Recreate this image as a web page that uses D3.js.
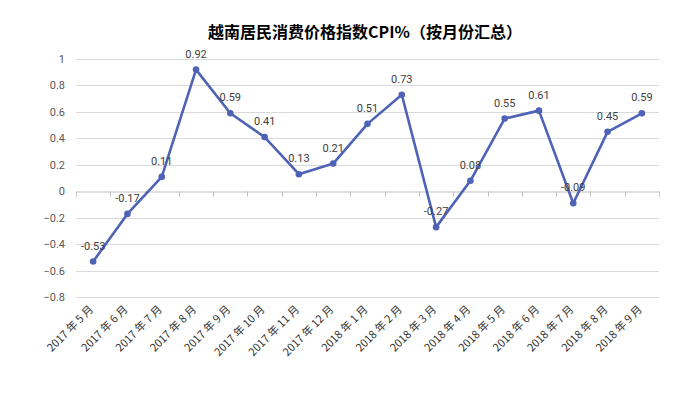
<!DOCTYPE html>
<html>
<head>
<meta charset="utf-8">
<script src="https://cdn.jsdelivr.net/npm/d3@7"></script>
<style>
  body { margin: 0; background: #fff; }
</style>
</head>
<body>
<div id="chart"></div>
<script>
// data
const months = ["2017 年 5 月", "2017 年 6 月", "2017 年 7 月", "2017 年 8 月", "2017 年 9 月",
    "2017 年 10 月", "2017 年 11 月", "2017 年 12 月", "2018 年 1 月", "2018 年 2 月",
    "2018 年 3 月", "2018 年 4 月", "2018 年 5 月", "2018 年 6 月", "2018 年 7 月",
    "2018 年 8 月", "2018 年 9 月"];
const cpi = [-0.53, -0.17, 0.11, 0.92, 0.59, 0.41, 0.13, 0.21, 0.51, 0.73,
    -0.27, 0.08, 0.55, 0.61, -0.09, 0.45, 0.59];
const yTicks = [-0.8, -0.6, -0.4, -0.2, 0, 0.2, 0.4, 0.6, 0.8, 1];

function draw() {
    const svgwidth = 688;
    const svgheight = 397;
    const margin = {top: 59, bottom: 100, left: 76, right: 29};
    const line_color = "#4e62b6";
    const num_font = "Roboto, 'Noto Sans', sans-serif";
    const cjk_font = "'Noto Sans CJK SC', sans-serif";

    let svg = d3.select("#chart").append("svg")
        .attr("width", svgwidth)
        .attr("height", svgheight);

    let xScale = d3.scaleBand()
        .domain(months)
        .range([margin.left, svgwidth - margin.right]);
    let yScale = d3.scaleLinear()
        .domain([-0.8, 1])
        .range([svgheight - margin.bottom + 0.3, margin.top]);
    let xc = (d) => xScale(d) + xScale.bandwidth() / 2;

    // gridlines
    svg.append("g")
        .selectAll("line")
        .data(yTicks.filter(t => t != 0))
        .enter().append("line")
        .attr("x1", margin.left)
        .attr("x2", svgwidth - margin.right)
        .attr("y1", d => Math.round(yScale(d)) + 0.5)
        .attr("y2", d => Math.round(yScale(d)) + 0.5)
        .attr("stroke", "#d9d9d9")
        .attr("stroke-width", 1);

    // y tick labels
    svg.append("g")
        .selectAll("text")
        .data(yTicks)
        .enter().append("text")
        .text(d => d3.format("")(Math.round(d * 10) / 10))
        .attr("x", 65)
        .attr("y", d => yScale(d) + 4)
        .attr("text-anchor", "end")
        .style("font-family", num_font)
        .style("font-size", "11px")
        .style("fill", "#595959");

    // category axis on zero
    let xAxis = d3.axisBottom(xScale)
        .tickSizeOuter(0)
        .tickSizeInner(0)
        .tickFormat("");
    let zeroY = Math.round(yScale(0)) + 0.5;
    let ax = svg.append("g")
        .attr("transform", `translate(0,${zeroY})`)
        .call(xAxis);
    ax.select(".domain").attr("stroke", "#bfbfbf");
    // boundary ticks
    let bounds = months.map(m => xScale(m)).concat([svgwidth - margin.right]);
    ax.selectAll(".bnd")
        .data(bounds)
        .enter().append("line")
        .attr("class", "bnd")
        .attr("x1", d => Math.round(d) + 0.5)
        .attr("x2", d => Math.round(d) + 0.5)
        .attr("y1", 0)
        .attr("y2", 5)
        .attr("stroke", "#bfbfbf");

    // month labels, rotated
    svg.append("g")
        .selectAll("text")
        .data(months)
        .enter().append("text")
        .text(d => d)
        .attr("transform", d => `translate(${xc(d) + 1},${svgheight - margin.bottom + 13}) rotate(-45)`)
        .attr("text-anchor", "end")
        .style("font-family", cjk_font)
        .style("font-size", "11px")
        .style("fill", "#333");

    // line
    let line = d3.line()
        .x((d, i) => xc(months[i]))
        .y(d => yScale(d));
    svg.append("path")
        .datum(cpi)
        .attr("d", line)
        .attr("fill", "none")
        .attr("stroke", line_color)
        .attr("stroke-width", 2.6)
        .attr("stroke-linejoin", "round");

    svg.append("g")
        .selectAll("circle")
        .data(cpi)
        .enter().append("circle")
        .attr("cx", (d, i) => xc(months[i]))
        .attr("cy", d => yScale(d))
        .attr("r", 3.3)
        .attr("fill", line_color);

    // data labels
    svg.append("g")
        .selectAll("text")
        .data(cpi)
        .enter().append("text")
        .text(d => d)
        .attr("x", (d, i) => xc(months[i]))
        .attr("y", d => yScale(d) - 12)
        .attr("text-anchor", "middle")
        .style("font-family", num_font)
        .style("font-size", "11px")
        .style("fill", "#404040");

    // title
    svg.append("text")
        .text("越南居民消费价格指数CPI%（按月份汇总）")
        .attr("x", 365)
        .attr("y", 38)
        .attr("text-anchor", "middle")
        .style("font-family", cjk_font)
        .style("font-weight", "bold")
        .style("font-size", "16px")
        .style("fill", "#000");
}

draw();
</script>
</body>
</html>
